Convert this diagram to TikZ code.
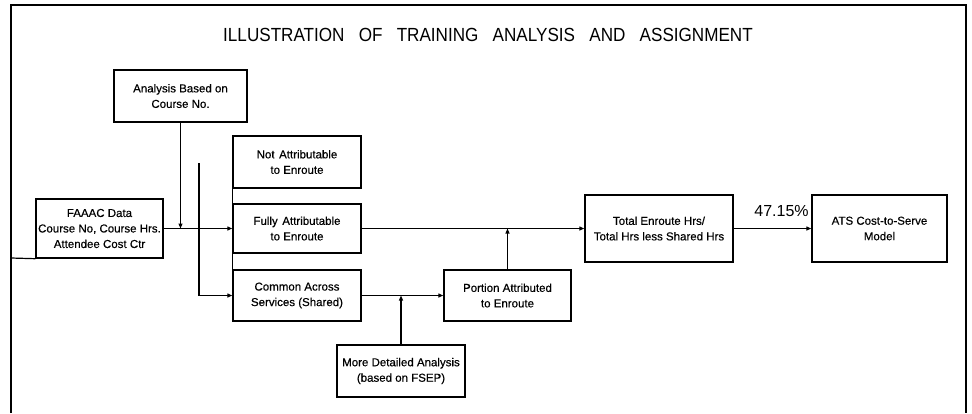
\documentclass[tikz,border=0pt]{standalone}
\usepackage{fontspec}
\setmainfont{Liberation Sans}
\newfontfamily\titlefont[FakeStretch=0.9]{Liberation Sans}
\newfontfamily\boxfontfam[FakeBold=0.4]{Liberation Sans}
\usetikzlibrary{arrows.meta}
\tikzset{
  >={Triangle[length=5pt,width=4pt]},
  blk/.style={draw, line width=1.4pt, inner sep=0pt, align=center,
    font=\boxfontfam\fontsize{11.5}{15.5}\selectfont},
  conn/.style={line width=1.2pt},
  frame/.style={line width=1.8pt},
}
\begin{document}
\begin{tikzpicture}[x=1pt,y=-1pt]
\useasboundingbox (0,0) rectangle (972,413);
\draw[frame] (11,413) -- (11,5) -- (966,5) -- (966,413);
\node[font=\titlefont\fontsize{19}{19}\selectfont] (title) at (488,35)
  {ILLUSTRATION\hspace{0.75em}OF\hspace{0.75em}TRAINING\hspace{0.75em}ANALYSIS\hspace{0.75em}AND\hspace{0.75em}ASSIGNMENT};

\node[blk, minimum width=133pt, minimum height=52pt] (ana) at (180.5,96) {Analysis Based on\\Course No.};
\node[blk, minimum width=127pt, minimum height=59pt] (faaac) at (99.5,228.5) {FAAAC Data\\Course No, Course Hrs.\\Attendee Cost Ctr};
\node[blk, minimum width=128pt, minimum height=52pt] (notat) at (297,162) {Not\hspace{0.4em}Attributable\\to Enroute};
\node[blk, minimum width=128pt, minimum height=49pt] (fully) at (297,228.5) {Fully\hspace{0.4em}Attributable\\to Enroute};
\node[blk, minimum width=128pt, minimum height=51pt] (common) at (297,295.5) {Common Across\\Services (Shared)};
\node[blk, minimum width=127pt, minimum height=51pt] (portion) at (507.5,295.5) {Portion Attributed\\to Enroute};
\node[blk, minimum width=128pt, minimum height=52pt] (more) at (401,371) {More Detailed Analysis\\(based on FSEP)};
\node[blk, minimum width=148pt, minimum height=67pt] (total) at (659,228.5) {Total Enroute Hrs/\\Total Hrs less Shared Hrs};
\node[blk, minimum width=135pt, minimum height=67pt] (ats) at (879.5,228.5) {ATS Cost-to-Serve\\Model};

\draw[line width=1.4pt] (notat.north west) -- (common.south west);
\coordinate (fl) at (11,258);
\draw[conn] (fl) -- (faaac.south west);

\draw[conn,->] (faaac.east) -- (fully.west);
\draw[conn,->] (ana.south) -- (ana.south |- faaac.east);
\coordinate (split) at (199,163);
\draw[conn,->] (split) |- (common.west);
\draw[conn,->] (fully.east) -- (total.west);
\draw[conn,->] (portion.north) -- (portion.north |- fully.east);
\draw[conn,->] (common.east) -- (portion.west);
\draw[conn,->] (more.north) -- (more.north |- common.east);
\draw[conn,->] (total.east) -- (ats.west);
\node[font=\fontsize{16}{16}\selectfont, inner sep=0pt] (pct) at (781.5,211) {47.15\%};
\end{tikzpicture}
\end{document}
